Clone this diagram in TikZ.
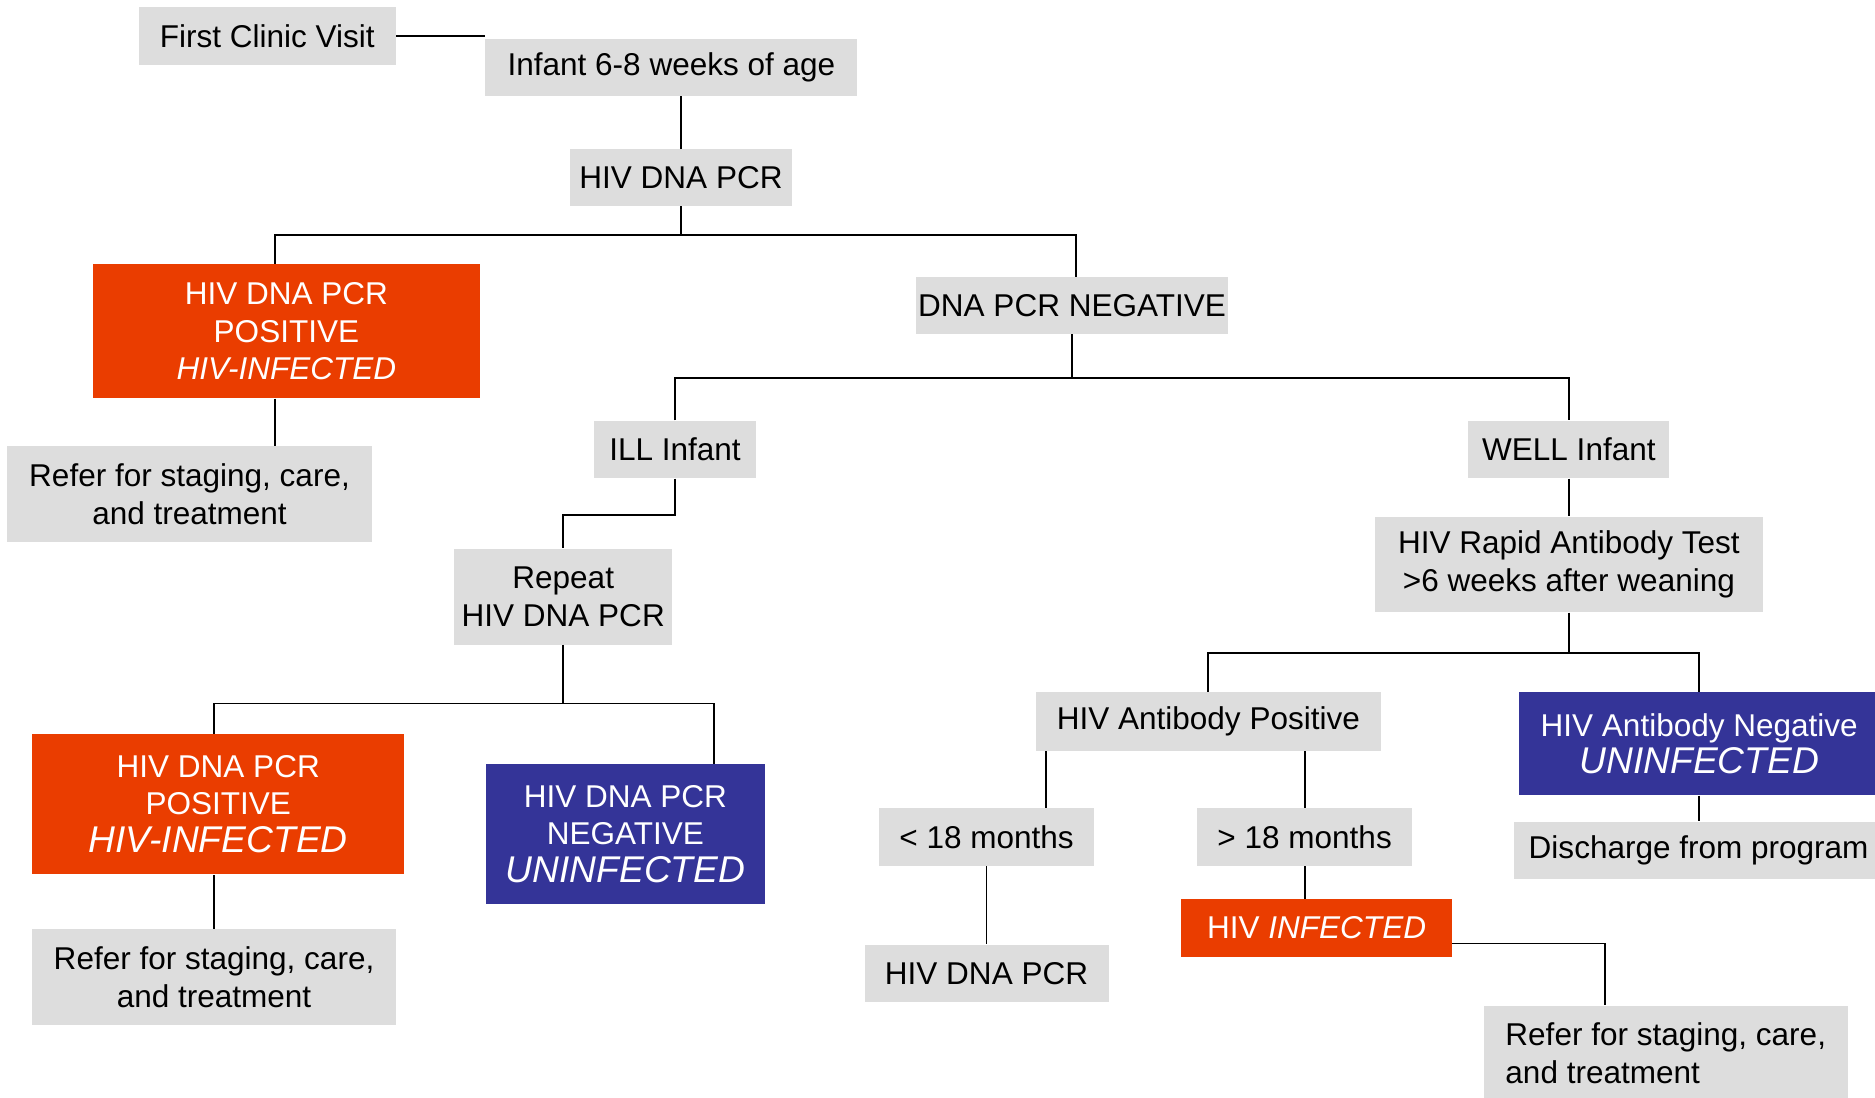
\documentclass[tikz,border=0pt]{standalone}
\usepackage{fontspec}
\setmainfont{Liberation Sans}
\usetikzlibrary{positioning}
\definecolor{stepFill}{HTML}{DDDDDD}
\definecolor{infectedFill}{HTML}{EA3D00}
\definecolor{uninfectedFill}{HTML}{343498}
\newcommand{\bigital}{\fontsize{17.7}{22}\selectfont\itshape}

\begin{document}
\begin{tikzpicture}[
    greybox/.style={
        rectangle, fill=stepFill,
        inner sep=0pt, align=center,
        font=\fontsize{15}{18}\selectfont
    },
    redbox/.style={greybox, fill=infectedFill, text=white},
    bluebox/.style={greybox, fill=uninfectedFill, text=white},
    link/.style={line width=0.9pt}
]
  \useasboundingbox (0,0) rectangle (31.36,18.36);

  % First visit and first PCR
  \node[greybox, minimum width=4.30cm, minimum height=0.96cm] (visit) at (4.47,17.76) {First Clinic Visit};
  \node[greybox, minimum width=6.22cm, minimum height=0.94cm] (infant) at (11.23,17.23) {Infant 6-8 weeks of age};
  \node[greybox, minimum width=3.70cm, minimum height=0.94cm] (pcr) at (11.39,15.39) {HIV DNA PCR};

  % First PCR results
  \node[redbox, minimum width=6.46cm, minimum height=2.24cm] (pos_first) at (4.79,12.82) {HIV DNA PCR\\POSITIVE\\\textit{HIV-INFECTED}};
  \node[greybox, minimum width=5.22cm, minimum height=0.94cm] (neg_first) at (17.93,13.25) {DNA PCR NEGATIVE};
  \node[greybox, minimum width=6.10cm, minimum height=1.60cm] (refer_first) at (3.17,10.10) {Refer for staging, care,\\and treatment};

  % Ill infant branch
  \node[greybox, minimum width=2.70cm, minimum height=0.96cm] (ill) at (11.29,10.84) {ILL Infant};
  \node[greybox, minimum width=3.64cm, minimum height=1.60cm] (repeat) at (9.42,8.38) {Repeat\\HIV DNA PCR};
  \node[redbox, minimum width=6.22cm, minimum height=2.34cm] (pos_repeat) at (3.65,4.91) {HIV DNA PCR\\POSITIVE\\\bigital HIV-INFECTED};
  \node[bluebox, minimum width=4.68cm, minimum height=2.34cm] (neg_repeat) at (10.46,4.41) {HIV DNA PCR\\NEGATIVE\\\bigital UNINFECTED};
  \node[greybox, minimum width=6.08cm, minimum height=1.60cm] (refer_repeat) at (3.58,2.02) {Refer for staging, care,\\and treatment};

  % Well infant branch
  \node[greybox, minimum width=3.36cm, minimum height=0.96cm] (well) at (26.24,10.84) {WELL Infant};
  \node[greybox, minimum width=6.50cm, minimum height=1.60cm] (rapid) at (26.24,8.92) {HIV Rapid Antibody Test\\>6 weeks after weaning};
  \node[greybox, minimum width=5.78cm, minimum height=0.98cm] (ab_pos) at (20.21,6.29) {HIV Antibody Positive};
  \node[bluebox, minimum width=6.04cm, minimum height=1.72cm] (ab_neg) at (28.42,5.92) {HIV Antibody Negative\\\bigital UNINFECTED};
  \node[greybox, minimum width=3.60cm, minimum height=0.96cm] (under18) at (16.50,4.36) {< 18 months};
  \node[greybox, minimum width=3.60cm, minimum height=0.96cm] (over18) at (21.82,4.36) {> 18 months};
  \node[greybox, minimum width=6.18cm, minimum height=0.96cm] (discharge) at (28.41,4.14) {Discharge from program};
  \node[greybox, minimum width=4.08cm, minimum height=0.96cm] (pcr_late) at (16.50,2.08) {HIV DNA PCR};
  \node[redbox, minimum width=4.52cm, minimum height=0.96cm] (infected) at (22.02,2.84) {HIV \textit{INFECTED}};
  \node[greybox, align=left, minimum width=6.08cm, minimum height=1.60cm] (refer_well) at (27.86,0.74) {Refer for staging, care,\\and treatment};

  % Top connectors
  \draw[link] (visit.east) -- (visit.east -| infant.west);
  \draw[link] (pcr.north) -- (pcr.north |- infant.south);
  \draw[link] (pcr.south) -- ++(0,-0.48) coordinate (bus_pcr);
  \draw[link] ([xshift=-0.19cm]pos_first.north) |- (bus_pcr) -| ([xshift=0.07cm]neg_first.north);
  \draw[link] ([xshift=-0.19cm]pos_first.south) -- ([xshift=-0.19cm]pos_first.south |- refer_first.north);

  % Negative result splits into ill / well
  \draw[link] (neg_first.south) -- ++(0,-0.74) coordinate (bus_neg);
  \draw[link] (ill.north) |- (bus_neg) -| (well.north);

  % Ill infant connectors
  \draw[link] (ill.south) -- ++(0,-0.60) -| (repeat.north);
  \draw[link] (repeat.south) -- ++(0,-0.98) coordinate (bus_repeat);
  \draw[link] ([xshift=-0.07cm]pos_repeat.north) |- (bus_repeat) -| ([xshift=1.48cm]neg_repeat.north);
  \draw[link] (refer_repeat.north) -- (refer_repeat.north |- pos_repeat.south);

  % Well infant connectors
  \draw[link] (well.south) -- (rapid.north);
  \draw[link] (rapid.south) -- ++(0,-0.68) coordinate (bus_rapid);
  \draw[link] (ab_pos.north) |- (bus_rapid) -| (ab_neg.north);
  \draw[link] ([xshift=1cm]under18.north) -- ([xshift=1cm]under18.north |- ab_pos.south);
  \draw[link] (over18.north) -- (over18.north |- ab_pos.south);
  \draw[link] (under18.south) -- (pcr_late.north);
  \draw[link] (over18.south) -- (over18.south |- infected.north);
  \draw[link] (ab_neg.south) -- (ab_neg.south |- discharge.north);
  \draw[link] ([yshift=-0.26cm]infected.east) -| ([xshift=-1.02cm]refer_well.north);

\end{tikzpicture}
\end{document}
